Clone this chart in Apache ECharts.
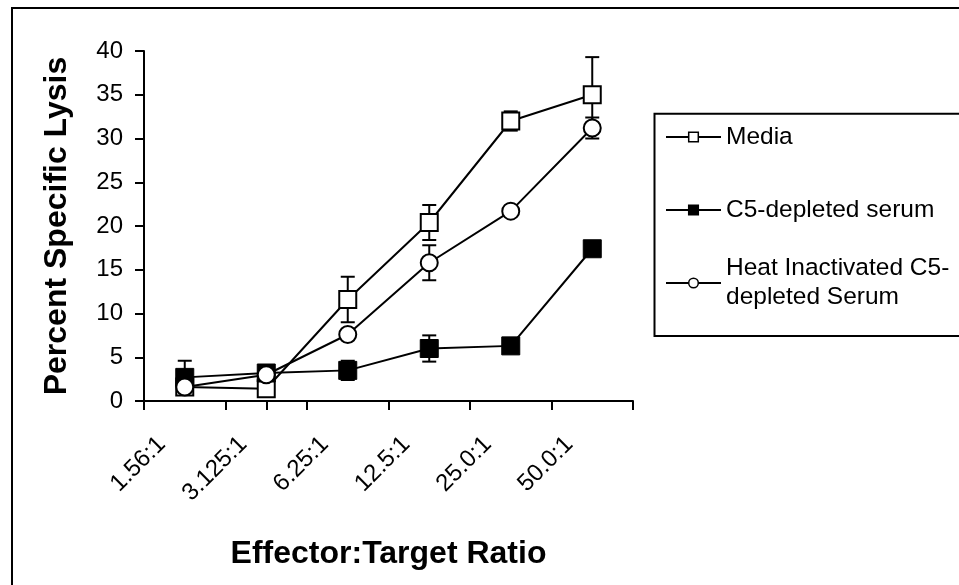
<!DOCTYPE html>
<html>
<head>
<meta charset="utf-8">
<script src="https://cdn.jsdelivr.net/npm/echarts@6/dist/echarts.min.js"></script>
<style>
html,body{margin:0;padding:0;background:#fff;}
#chart{width:959px;height:585px;}
</style>
</head>
<body>
<div id="chart"></div>
<script>
// ---- data ----
var categories = ['1.56:1', '3.125:1', '6.25:1', '12.5:1', '25.0:1', '50.0:1'];
var yTicks = [0, 5, 10, 15, 20, 25, 30, 35, 40];
var seriesNames = ['Media', 'C5-depleted serum', 'Heat Inactivated C5-depleted Serum'];
var media = [1.6, 1.4, 11.6, 20.4, 32.0, 35.0];
var mediaErr = [0, 0, 2.6, 2.0, 1.1, 4.3];
var c5 = [2.7, 3.2, 3.5, 6.0, 6.3, 17.4];
var c5Err = [1.9, 0, 1.1, 1.5, 0, 0];
var heat = [1.6, 3.0, 7.6, 15.8, 21.7, 31.2];
var heatErr = [0, 0, 0, 2.0, 0, 1.2];

var FONT = "'Liberation Sans', Arial, sans-serif";

function errData(vals, errs) {
  return vals.map(function (v, i) { return [i, v, errs[i]]; });
}
function renderErr(params, api) {
  var i = api.value(0), v = api.value(1), e = api.value(2);
  if (!e) return null;
  var top = api.coord([i, v + e]);
  var bot = api.coord([i, v - e]);
  var w = 7;
  var st = { stroke: '#000', lineWidth: 2 };
  return {
    type: 'group',
    children: [
      { type: 'line', shape: { x1: top[0], y1: top[1], x2: bot[0], y2: bot[1] }, style: st },
      { type: 'line', shape: { x1: top[0] - w, y1: top[1], x2: top[0] + w, y2: top[1] }, style: st },
      { type: 'line', shape: { x1: bot[0] - w, y1: bot[1], x2: bot[0] + w, y2: bot[1] }, style: st }
    ]
  };
}

var chart = echarts.init(document.getElementById('chart'), null, { renderer: 'canvas' });

var legendBase = {
  orient: 'vertical', left: 665, padding: 0, itemWidth: 55, itemHeight: 12,
  selectedMode: false, itemGap: 0,
  lineStyle: { width: 2, color: '#000' },
  itemStyle: { borderWidth: 1.5, borderColor: '#000' },
  textStyle: { fontFamily: FONT, fontSize: 24.5, color: '#000', lineHeight: 29 }
};
function mkLegend(name, top, extraText) {
  var l = JSON.parse(JSON.stringify(legendBase));
  l.top = top;
  l.data = [name];
  if (extraText) l.textStyle = Object.assign(l.textStyle, extraText);
  return l;
}

var option = {
  backgroundColor: '#fff',
  animation: false,
  graphic: [
    { type: 'rect', shape: { x: 12, y: 8, width: 1000, height: 700 }, style: { fill: 'none', stroke: '#000', lineWidth: 2 }, z: 0 },
    { type: 'rect', shape: { x: 654.5, y: 113.7, width: 400, height: 222.3 }, style: { fill: 'none', stroke: '#000', lineWidth: 2 }, z: 0 }
  ],
  legend: [
    mkLegend(seriesNames[0], 137 - 14.5),
    mkLegend(seriesNames[1], 210 - 14.5),
    (function () {
      var l = mkLegend(seriesNames[2], 283 - 43.5, { padding: [29, 0, 0, 0] });
      l.formatter = function () { return 'Heat Inactivated C5-\ndepleted Serum'; };
      return l;
    })()
  ],
  grid: { left: 144, top: 51, width: 489, height: 350, containLabel: false },
  xAxis: [{
    type: 'category',
    data: categories,
    boundaryGap: true,
    axisLine: { lineStyle: { color: '#000', width: 2 } },
    axisTick: { show: true, alignWithLabel: false, length: 9, lineStyle: { color: '#000', width: 2 }, interval: 0 },
    axisLabel: {
      interval: 0, rotate: 45, margin: 30, color: '#000', fontFamily: FONT, fontSize: 24,
      verticalAlign: 'bottom', lineHeight: 19, padding: [0, 23, 0, 0]
    },
    name: 'Effector:Target Ratio',
    nameLocation: 'middle',
    nameGap: 137,
    nameTextStyle: { fontFamily: FONT, fontSize: 32, fontWeight: 'bold', color: '#000' },
    splitLine: { show: false }
  }, {
    type: 'category',
    data: categories,
    position: 'top',
    offset: -350,
    boundaryGap: true,
    axisLine: { show: false },
    axisLabel: { show: false },
    axisTick: {
      show: true, inside: true, alignWithLabel: true, length: 9, lineStyle: { color: '#000', width: 2 },
      interval: function (idx) { return idx === 1; }
    },
    splitLine: { show: false }
  }],
  yAxis: {
    type: 'value',
    min: yTicks[0], max: yTicks[yTicks.length - 1], interval: yTicks[1] - yTicks[0],
    axisLine: { show: true, lineStyle: { color: '#000', width: 2 } },
    axisTick: { show: true, length: 9, lineStyle: { color: '#000', width: 2 } },
    axisLabel: { margin: 21, color: '#000', fontFamily: FONT, fontSize: 24 },
    splitLine: { show: false },
    name: 'Percent Specific Lysis',
    nameLocation: 'middle',
    nameRotate: 90,
    nameGap: 71,
    nameTextStyle: { fontFamily: FONT, fontSize: 32, fontWeight: 'bold', color: '#000' }
  },
  series: [
    { type: 'custom', name: 'mediaErr', renderItem: renderErr, data: errData(media, mediaErr), z: 1, silent: true },
    { type: 'custom', name: 'c5Err', renderItem: renderErr, data: errData(c5, c5Err), z: 1, silent: true },
    { type: 'custom', name: 'heatErr', renderItem: renderErr, data: errData(heat, heatErr), z: 1, silent: true },
    {
      type: 'line', name: seriesNames[0], data: media, z: 3,
      symbol: 'rect', symbolSize: 17, showAllSymbol: true,
      lineStyle: { color: '#000', width: 2 },
      itemStyle: { color: '#fff', borderColor: '#000', borderWidth: 2 }
    },
    {
      type: 'line', name: seriesNames[1], data: c5, z: 4,
      symbol: 'rect', symbolSize: 18, showAllSymbol: true,
      lineStyle: { color: '#000', width: 2 },
      itemStyle: { color: '#000', borderColor: '#000', borderWidth: 1 }
    },
    {
      type: 'line', name: seriesNames[2], data: heat, z: 5,
      symbol: 'circle', symbolSize: 17, showAllSymbol: true,
      lineStyle: { color: '#000', width: 2 },
      itemStyle: { color: '#fff', borderColor: '#000', borderWidth: 2 }
    }
  ]
};
chart.setOption(option);
</script>
</body>
</html>
